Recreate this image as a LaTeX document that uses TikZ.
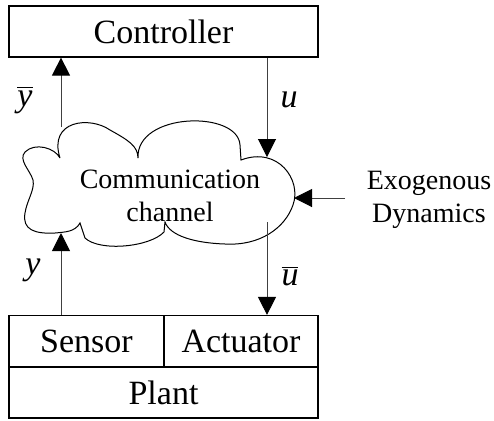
\documentclass[tikz,border=0pt]{standalone}
\usepackage{fontspec}
\setmainfont{Liberation Serif}
\usetikzlibrary{arrows.meta}
\begin{document}
\begin{tikzpicture}[x=0.5pt,y=-0.5pt,
  box/.style={draw=black,line width=0.6pt,minimum height=25.5pt,inner sep=0pt,font=\fontsize{17}{20}\selectfont},
  sig/.style={draw=black!75,line width=0.5pt,-{Triangle[length=9pt,width=9pt,color=black]}},
  lab/.style={font=\fontsize{17}{20}\selectfont,inner sep=0pt},
  small/.style={font=\fontsize{14}{16.5}\selectfont,align=center,inner sep=0pt}]
\useasboundingbox (0,0) rectangle (494,420);
% boxes
\node[box,minimum width=154.5pt] (ctrl) at (163.5,31.5) {Controller};
\node[box,minimum width=77.5pt] (sensor) at (86.5,341) {Sensor};
\node[box,minimum width=77pt] (act) at (241,341) {Actuator};
\node[box,minimum width=154.5pt] (plant) at (163.5,392.5) {Plant};
% cloud
\draw[line width=0.5pt,fill=white]
  (60,158) .. controls (48,120) and (90,116) .. (110,130)
  .. controls (128,140) and (138,146) .. (138,158)
  .. controls (136,112) and (238,110) .. (240,145) -- (241,160)
  .. controls (278,146) and (302,180) .. (293,205)
  .. controls (285,228) and (260,246) .. (225,244)
  .. controls (195,243) and (170,236) .. (165,222) -- (164,232)
  .. controls (150,247) and (100,252) .. (85,238) -- (80,223)
  .. controls (75,232) and (65,232) .. (55,233)
  .. controls (35,234) and (22,230) .. (25,213)
  .. controls (27,200) and (35,190) .. (33,180)
  .. controls (30,170) and (18,160) .. (25,152)
  .. controls (35,142) and (55,148) .. (60,158);
\node[small] (cloud) at (170,196) {Communication\\channel};
\node[small] (exo) at (429,200) {Exogenous\\Dynamics};
% cloud anchor points
\coordinate (cTopL) at (61,127);
\coordinate (cTopR) at (267,157);
\coordinate (cRight) at (294,198);
\coordinate (cBotL) at (61,233);
\coordinate (cBotR) at (267,222);
\coordinate (exoIn) at (345,198);
% connectors
\draw[sig] (cTopL) -- (cTopL |- ctrl.south);
\draw[sig] (cTopR |- ctrl.south) -- (cTopR);
\draw[sig] (exoIn) -- (cRight);
\draw[sig] (cBotL |- sensor.north) -- (cBotL);
\draw[sig] (cBotR) -- (cBotR |- act.north);
% labels
\node[lab] (ybar) at (25,100) {$\overline{\textit{y}}$};
\node[lab] (u) at (289,100) {\textit{u}};
\node[lab] (y) at (33,270) {\textit{y}};
\node[lab] (ubar) at (290,276) {$\overline{\textit{u}}$};
\end{tikzpicture}
\end{document}
